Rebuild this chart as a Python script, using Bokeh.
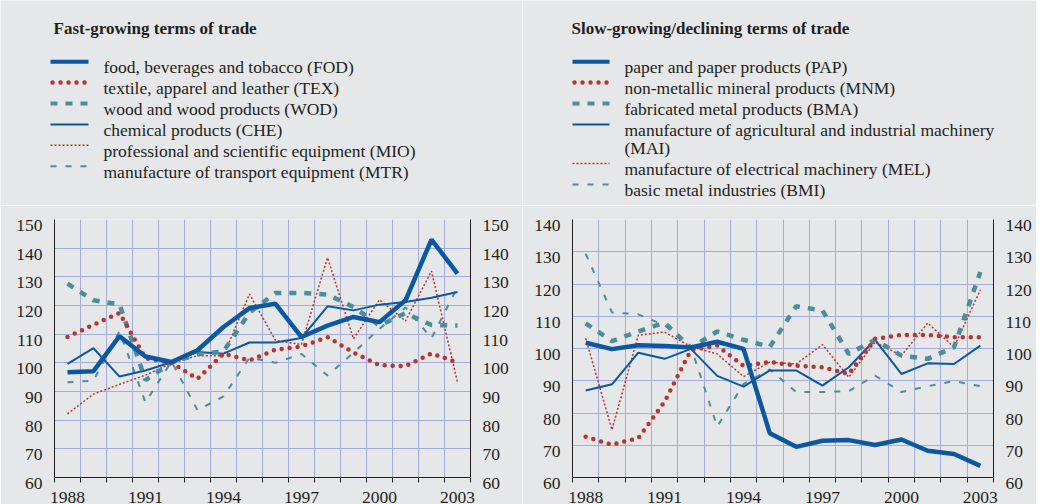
from bokeh.plotting import figure
from bokeh.models import Range1d, LinearAxis, FixedTicker, ColumnDataSource
from bokeh.layouts import row, column
from bokeh.embed import file_html
from bokeh.resources import INLINE
from bokeh.core.properties import value

# ---------------- data ----------------
years = list(range(1988, 2004))
tick_years = [1988, 1991, 1994, 1997, 2000, 2003]

left_title = "Fast-growing terms of  trade"
left_labels = [
    "food, beverages and tobacco (FOD)",
    "textile, apparel and leather (TEX)",
    "wood and wood products (WOD)",
    "chemical products (CHE)",
    "professional and scientific equipment (MIO)",
    "manufacture of transport equipment (MTR)",
]
left_yticks = [60, 70, 80, 90, 100, 110, 120, 130, 140, 150]
FOD = [96.7, 97.1, 109.3, 102.2, 100.3, 104.4, 112.5, 119.1, 120.6, 109.0, 113.0, 116.0, 114.2, 121.8, 143.0, 131.1]
TEX = [109.0, 113.3, 117.4, 101.6, 100.0, 94.4, 103.2, 100.8, 104.6, 105.7, 109.0, 103.6, 99.2, 98.8, 103.3, 100.1]
WOD = [127.6, 121.8, 120.4, 94.0, 100.0, 103.0, 104.0, 117.5, 124.4, 124.4, 123.8, 119.5, 113.0, 117.3, 113.2, 113.0]
CHE = [99.6, 105.1, 95.2, 97.3, 100.2, 103.8, 103.2, 107.1, 107.1, 108.7, 119.7, 118.3, 120.3, 121.2, 122.7, 124.7]
MIO = [82.2, 89.1, 92.5, 95.7, 99.8, 102.5, 102.5, 124.0, 107.8, 106.4, 136.7, 108.4, 122.0, 114.6, 132.0, 93.2]
MTR = [93.2, 93.8, 111.0, 86.2, 100.5, 83.5, 88.3, 101.8, 100.0, 103.1, 95.6, 103.5, 111.9, 119.3, 108.6, 126.4]

right_title = "Slow-growing/declining terms of  trade"
right_labels = [
    "paper and paper products (PAP)",
    "non-metallic mineral products (MNM)",
    "fabricated metal products (BMA)",
    "manufacture of agricultural and industrial machinery\n(MAI)",
    "manufacture of electrical machinery (MEL)",
    "basic metal industries (BMI)",
]
right_yticks = [60, 70, 80, 90, 100, 110, 120, 130, 140]
PAP = [101.8, 99.8, 101.0, 100.8, 100.3, 102.1, 99.9, 73.7, 69.5, 71.4, 71.6, 70.1, 71.8, 68.3, 67.3, 63.6]
MNM = [72.6, 70.2, 72.2, 83.5, 99.5, 100.9, 94.6, 95.8, 94.7, 94.2, 92.1, 103.0, 104.2, 104.2, 103.5, 103.5]
BMA = [107.8, 102.3, 105.3, 108.0, 100.2, 105.3, 102.7, 100.5, 113.1, 111.8, 98.3, 102.7, 97.8, 96.8, 100.4, 123.7]
MAI = [87.0, 88.9, 98.7, 96.8, 99.9, 91.5, 88.2, 93.2, 93.2, 88.5, 94.2, 102.7, 92.1, 95.4, 95.2, 100.9]
MEL = [103.2, 74.8, 104.1, 105.1, 100.6, 98.3, 91.3, 95.8, 95.2, 101.2, 91.1, 102.0, 97.8, 107.9, 100.4, 118.2]
BMI = [129.4, 111.2, 110.6, 107.2, 100.5, 75.8, 89.0, 93.5, 86.5, 86.5, 86.8, 91.6, 86.5, 88.3, 89.9, 88.3]

left_series = [FOD, TEX, WOD, CHE, MIO, MTR]
right_series = [PAP, MNM, BMA, MAI, MEL, BMI]

# ---------------- styles ----------------
FONT = "Liberation Serif, Times New Roman, serif"
BG = "#e6e7e9"
BLUE = "#0b57a2"
RED = "#b8342f"
TEAL = "#4b8d9b"
GRID = "#a4acdb"
TXT = "#231f20"
TXT_SIZE = "17.5px"

STYLES = [
    dict(line_color=BLUE, line_width=4.5),
    dict(line_color=RED, line_width=4.5, line_dash="0 8", line_cap="round"),
    dict(line_color=TEAL, line_width=4.5, line_dash="7 8"),
    dict(line_color=BLUE, line_width=2),
    dict(line_color=RED, line_width=1.5, line_dash="2 2"),
    dict(line_color=TEAL, line_width=2, line_dash="6 9"),
]
LEG_STYLES = [
    dict(line_color=BLUE, line_width=4),
    dict(line_color=RED, line_width=4.5, line_dash="0 8", line_cap="round"),
    dict(line_color=TEAL, line_width=4, line_dash="7 8"),
    dict(line_color=BLUE, line_width=2),
    dict(line_color=RED, line_width=1.5, line_dash="2 2"),
    dict(line_color=TEAL, line_width=2, line_dash="6 9"),
]
DRAW_ORDER = [5, 4, 3, 2, 1, 0]

LEG_H = 205
CHART_H = 299


def make_legend(width, title, title_x, x0, x1, tx, labels):
    p = figure(width=width, height=LEG_H, x_range=Range1d(0, width), y_range=Range1d(LEG_H, 0),
               output_backend="svg", toolbar_location=None, min_border=0,
               min_border_left=0, min_border_right=0, min_border_top=0, min_border_bottom=0,
               x_axis_type=None, y_axis_type=None, frame_align=False,
               background_fill_color=BG, border_fill_color=BG, outline_line_color=None)
    p.grid.visible = False
    p.text(x=[title_x], y=[28], text=[title], text_font=value(FONT), text_font_style="bold",
           text_font_size="17px", text_color=TXT, text_baseline="alphabetic")
    y = 61.2
    for lab, st in zip(labels, LEG_STYLES):
        lines = lab.split("\n")
        if st.get("line_cap") == "round":
            p.line(x=[x0 + 2, x1 - 2.5], y=[y, y], **st)
        else:
            p.line(x=[x0, x1], y=[y, y], **st)
        for k, ln in enumerate(lines):
            p.text(x=[tx], y=[y + 5.5 + 18.3 * k], text=[ln], text_font=value(FONT),
                   text_font_size=TXT_SIZE, text_color=TXT, text_baseline="alphabetic")
        y += 20.9 + 18.3 * (len(lines) - 1)
    return p


def make_chart(width, bl, br, yticks, series):
    ymin, ymax = yticks[0], yticks[-1]
    x0, x1 = years[0] - 0.5, years[-1] + 0.5
    p = figure(width=width, height=CHART_H, x_range=Range1d(x0, x1), y_range=Range1d(ymin, ymax),
               output_backend="svg", toolbar_location=None, frame_align=False,
               min_border_left=bl, min_border_right=br, min_border_top=14, min_border_bottom=27,
               background_fill_color=BG, border_fill_color=BG, outline_line_color=None)
    bounds = [y - 0.5 for y in years] + [years[-1] + 0.5]

    xa = p.xaxis[0]
    xa.ticker = FixedTicker(ticks=tick_years, minor_ticks=bounds)
    xa.major_tick_out = 0
    xa.major_tick_in = 0
    xa.minor_tick_out = 5
    xa.minor_tick_in = 0
    xa.minor_tick_line_color = TXT
    xa.axis_line_color = TXT

    ya = p.yaxis[0]
    ya.ticker = FixedTicker(ticks=yticks)
    ra = LinearAxis(ticker=FixedTicker(ticks=yticks))
    p.add_layout(ra, "right")
    for a in (xa, ya, ra):
        # the axes draw lines/ticks; their labels are drawn below as text glyphs
        a.major_label_text_font_size = "0px"
        a.major_label_text_alpha = 0
        a.major_label_standoff = 0
    for a in (ya, ra):
        a.major_tick_out = 0
        a.major_tick_in = 0
        a.minor_tick_out = 0
        a.minor_tick_in = 0
        a.axis_line_color = TXT

    p.xgrid.ticker = FixedTicker(ticks=bounds)
    p.ygrid.ticker = FixedTicker(ticks=yticks)
    p.xgrid.grid_line_color = GRID
    p.ygrid.grid_line_color = GRID

    for i in DRAW_ORDER:
        p.line(x=years, y=series[i], **STYLES[i])

    # tick labels as text, placed through the plot's scales
    xs = ColumnDataSource(dict(x=tick_years, y=[ymin] * len(tick_years), t=[str(v) for v in tick_years]))
    ls = ColumnDataSource(dict(x=[x0] * len(yticks), y=yticks, t=[str(v) for v in yticks]))
    rs = ColumnDataSource(dict(x=[x1] * len(yticks), y=yticks, t=[str(v) for v in yticks]))
    for src, align, dx, dy in [(xs, "center", 0, 20), (ls, "right", -12, 6), (rs, "left", 12, 6)]:
        p.text(x="x", y="y", text="t", source=src, text_align=align, text_baseline="alphabetic",
               x_offset=dx, y_offset=dy, text_font=value(FONT), text_font_size=TXT_SIZE,
               text_color=TXT, level="annotation")
    return p


W1 = 522
W2 = 514
leg1 = make_legend(W1, left_title, 53, 50, 88, 103, left_labels)
leg2 = make_legend(W2, right_title, 49, 50, 87, 102, right_labels)
ch1 = make_chart(W1, 54, 52, left_yticks, left_series)
ch2 = make_chart(W2, 50, 43, right_yticks, right_series)

layout = row(column(leg1, ch1, spacing=0), column(leg2, ch2, spacing=0), spacing=0)
open("out.html", "w").write(file_html(layout, INLINE))
